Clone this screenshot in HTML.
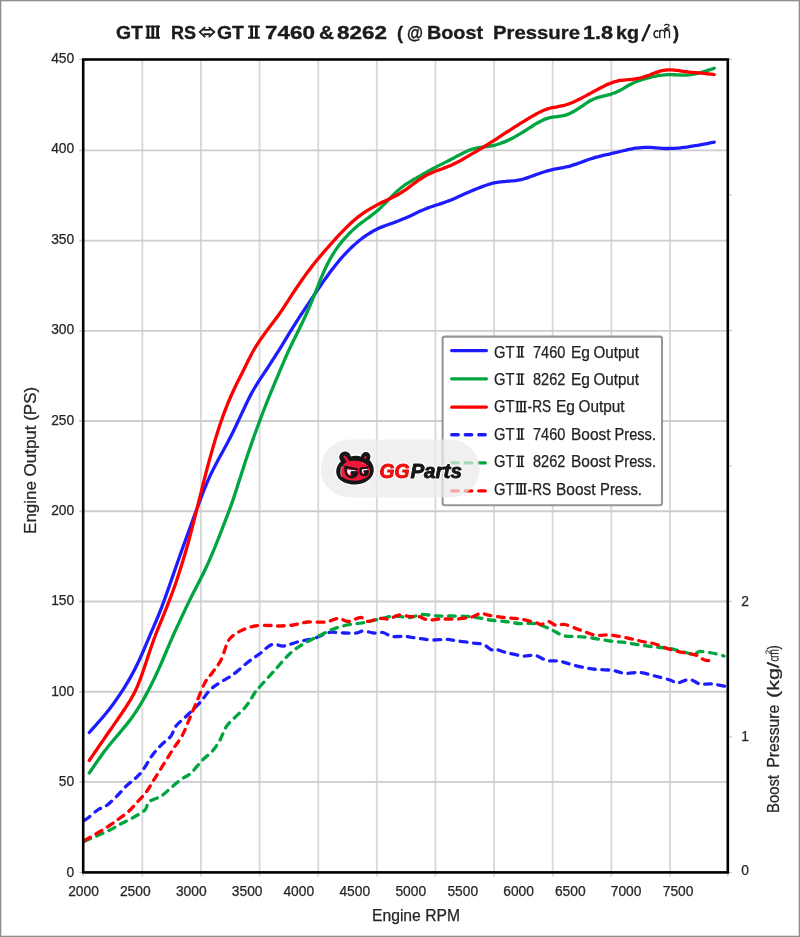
<!DOCTYPE html>
<html><head><meta charset="utf-8"><title>GT3 RS vs GT2 7460 &amp; 8262</title>
<style>html,body{margin:0;padding:0;background:#fff;}body{width:800px;height:937px;overflow:hidden;font-family:"Liberation Sans",sans-serif;}svg{display:block;}text{font-family:"Liberation Sans",sans-serif;}</style>
</head><body>
<svg width="800" height="937" viewBox="0 0 800 937">
<rect x="0" y="0" width="800" height="937" fill="#fff"/>
<defs><filter id="soft" x="0" y="0" width="800" height="937" filterUnits="userSpaceOnUse"><feGaussianBlur stdDeviation="0.45"/></filter></defs>
<g filter="url(#soft)">
<rect x="-5" y="-5" width="810" height="947" fill="#fff"/>
<rect x="0.5" y="0.5" width="799" height="936" fill="none" stroke="#8e8e8e" stroke-width="1.6"/>
<g stroke="#d9d9d9" stroke-width="1.9" fill="none">
<line x1="142.35" y1="59.50" x2="142.35" y2="876.40"/>
<line x1="200.97" y1="59.50" x2="200.97" y2="876.40"/>
<line x1="259.59" y1="59.50" x2="259.59" y2="876.40"/>
<line x1="318.21" y1="59.50" x2="318.21" y2="876.40"/>
<line x1="376.83" y1="59.50" x2="376.83" y2="876.40"/>
<line x1="435.45" y1="59.50" x2="435.45" y2="876.40"/>
<line x1="494.07" y1="59.50" x2="494.07" y2="876.40"/>
<line x1="552.69" y1="59.50" x2="552.69" y2="876.40"/>
<line x1="611.31" y1="59.50" x2="611.31" y2="876.40"/>
<line x1="669.93" y1="59.50" x2="669.93" y2="876.40"/>
</g>
<g stroke="#cdcdcd" stroke-width="1.9" fill="none">
<line x1="79.20" y1="781.89" x2="727.80" y2="781.89"/>
<line x1="79.20" y1="691.68" x2="727.80" y2="691.68"/>
<line x1="79.20" y1="601.47" x2="727.80" y2="601.47"/>
<line x1="79.20" y1="511.26" x2="727.80" y2="511.26"/>
<line x1="79.20" y1="421.05" x2="727.80" y2="421.05"/>
<line x1="79.20" y1="330.84" x2="727.80" y2="330.84"/>
<line x1="79.20" y1="240.63" x2="727.80" y2="240.63"/>
<line x1="79.20" y1="150.42" x2="727.80" y2="150.42"/>
</g>
<g stroke="#c4c4c4" stroke-width="1.2" fill="none">
<line x1="83.20" y1="872.40" x2="83.20" y2="876.40"/>
<line x1="727.80" y1="872.40" x2="727.80" y2="876.40"/>
<line x1="79.20" y1="59.50" x2="83.20" y2="59.50"/>
<line x1="79.20" y1="872.40" x2="83.20" y2="872.40"/>
<line x1="727.80" y1="872.40" x2="731.80" y2="872.40"/>
<line x1="727.80" y1="736.92" x2="731.80" y2="736.92"/>
<line x1="727.80" y1="601.43" x2="731.80" y2="601.43"/>
<line x1="727.80" y1="465.95" x2="731.80" y2="465.95"/>
<line x1="727.80" y1="330.47" x2="731.80" y2="330.47"/>
<line x1="727.80" y1="194.98" x2="731.80" y2="194.98"/>
<line x1="727.80" y1="59.50" x2="731.80" y2="59.50"/>
</g>
<g fill="none" stroke-width="3.3" stroke-linecap="round" stroke-linejoin="round">
<path stroke="#1f1fff" d="M89.25,732.50 C89.75,731.94 91.25,730.28 92.25,729.16 C93.25,728.05 94.25,726.94 95.25,725.82 C96.25,724.70 97.25,723.59 98.25,722.45 C99.25,721.32 100.25,720.19 101.25,719.02 C102.25,717.86 103.25,716.68 104.25,715.47 C105.25,714.26 106.25,713.02 107.25,711.76 C108.25,710.50 109.25,709.21 110.25,707.90 C111.25,706.59 112.25,705.26 113.25,703.91 C114.25,702.56 115.25,701.19 116.25,699.78 C117.25,698.37 118.25,696.93 119.25,695.45 C120.25,693.97 121.25,692.45 122.25,690.89 C123.25,689.33 124.25,687.73 125.25,686.10 C126.25,684.46 127.25,682.80 128.25,681.10 C129.25,679.39 130.25,677.66 131.25,675.86 C132.25,674.06 133.25,672.21 134.25,670.28 C135.25,668.35 136.25,666.35 137.25,664.28 C138.25,662.21 139.25,660.05 140.25,657.85 C141.25,655.66 142.25,653.38 143.25,651.08 C144.25,648.79 145.25,646.43 146.25,644.08 C147.25,641.73 148.25,639.35 149.25,636.99 C150.25,634.64 151.25,632.29 152.25,629.95 C153.25,627.62 154.25,625.32 155.25,622.97 C156.25,620.61 157.25,618.28 158.25,615.83 C159.25,613.38 160.25,610.88 161.25,608.29 C162.25,605.70 163.25,603.02 164.25,600.29 C165.25,597.56 166.25,594.75 167.25,591.93 C168.25,589.10 169.25,586.21 170.25,583.33 C171.25,580.45 172.25,577.53 173.25,574.65 C174.25,571.76 175.25,568.87 176.25,566.01 C177.25,563.16 178.25,560.32 179.25,557.50 C180.25,554.67 181.25,551.87 182.25,549.07 C183.25,546.28 184.25,543.49 185.25,540.72 C186.25,537.95 187.25,535.20 188.25,532.46 C189.25,529.72 190.25,527.00 191.25,524.28 C192.25,521.56 193.25,518.85 194.25,516.13 C195.25,513.41 196.25,510.69 197.25,507.97 C198.25,505.26 199.25,502.53 200.25,499.86 C201.25,497.19 202.25,494.53 203.25,491.97 C204.25,489.42 205.25,486.92 206.25,484.54 C207.25,482.15 208.25,479.87 209.25,477.67 C210.25,475.47 211.25,473.37 212.25,471.33 C213.25,469.28 214.25,467.33 215.25,465.39 C216.25,463.46 217.25,461.59 218.25,459.73 C219.25,457.87 220.25,456.05 221.25,454.22 C222.25,452.39 223.25,450.60 224.25,448.77 C225.25,446.94 226.25,445.11 227.25,443.24 C228.25,441.36 229.25,439.47 230.25,437.52 C231.25,435.56 232.25,433.56 233.25,431.53 C234.25,429.49 235.25,427.40 236.25,425.29 C237.25,423.19 238.25,421.03 239.25,418.88 C240.25,416.73 241.25,414.54 242.25,412.38 C243.25,410.22 244.25,408.04 245.25,405.93 C246.25,403.81 247.25,401.71 248.25,399.70 C249.25,397.70 250.25,395.75 251.25,393.88 C252.25,392.02 253.25,390.24 254.25,388.53 C255.25,386.81 256.25,385.17 257.25,383.57 C258.25,381.97 259.25,380.44 260.25,378.92 C261.25,377.40 262.25,375.93 263.25,374.43 C264.25,372.94 265.25,371.47 266.25,369.96 C267.25,368.45 268.25,366.92 269.25,365.38 C270.25,363.84 271.25,362.27 272.25,360.71 C273.25,359.15 274.25,357.58 275.25,356.01 C276.25,354.44 277.25,352.88 278.25,351.30 C279.25,349.73 280.25,348.15 281.25,346.54 C282.25,344.93 283.25,343.30 284.25,341.66 C285.25,340.01 286.25,338.33 287.25,336.67 C288.25,335.00 289.25,333.32 290.25,331.67 C291.25,330.02 292.25,328.38 293.25,326.78 C294.25,325.17 295.25,323.60 296.25,322.04 C297.25,320.48 298.25,318.95 299.25,317.43 C300.25,315.90 301.25,314.40 302.25,312.89 C303.25,311.38 304.25,309.88 305.25,308.38 C306.25,306.88 307.25,305.38 308.25,303.88 C309.25,302.38 310.25,300.88 311.25,299.38 C312.25,297.88 313.25,296.38 314.25,294.89 C315.25,293.40 316.25,291.90 317.25,290.42 C318.25,288.94 319.25,287.47 320.25,286.01 C321.25,284.55 322.25,283.11 323.25,281.68 C324.25,280.26 325.25,278.85 326.25,277.46 C327.25,276.07 328.25,274.70 329.25,273.34 C330.25,271.99 331.25,270.66 332.25,269.34 C333.25,268.03 334.25,266.74 335.25,265.47 C336.25,264.20 337.25,262.95 338.25,261.74 C339.25,260.53 340.25,259.34 341.25,258.18 C342.25,257.03 343.25,255.91 344.25,254.83 C345.25,253.74 346.25,252.69 347.25,251.66 C348.25,250.64 349.25,249.64 350.25,248.67 C351.25,247.70 352.25,246.75 353.25,245.82 C354.25,244.90 355.25,243.99 356.25,243.12 C357.25,242.24 358.25,241.38 359.25,240.56 C360.25,239.74 361.25,238.95 362.25,238.20 C363.25,237.44 364.25,236.72 365.25,236.03 C366.25,235.34 367.25,234.69 368.25,234.05 C369.25,233.42 370.25,232.82 371.25,232.23 C372.25,231.65 373.25,231.09 374.25,230.55 C375.25,230.02 376.25,229.50 377.25,229.01 C378.25,228.52 379.25,228.05 380.25,227.60 C381.25,227.16 382.25,226.75 383.25,226.35 C384.25,225.96 385.25,225.60 386.25,225.24 C387.25,224.88 388.25,224.55 389.25,224.21 C390.25,223.87 391.25,223.54 392.25,223.19 C393.25,222.85 394.25,222.50 395.25,222.14 C396.25,221.78 397.25,221.41 398.25,221.02 C399.25,220.64 400.25,220.25 401.25,219.84 C402.25,219.43 403.25,219.02 404.25,218.59 C405.25,218.16 406.25,217.71 407.25,217.27 C408.25,216.82 409.25,216.36 410.25,215.89 C411.25,215.42 412.25,214.95 413.25,214.47 C414.25,214.00 415.25,213.51 416.25,213.03 C417.25,212.56 418.25,212.07 419.25,211.61 C420.25,211.15 421.25,210.69 422.25,210.26 C423.25,209.82 424.25,209.40 425.25,209.00 C426.25,208.60 427.25,208.21 428.25,207.84 C429.25,207.47 430.25,207.11 431.25,206.77 C432.25,206.42 433.25,206.10 434.25,205.77 C435.25,205.44 436.25,205.13 437.25,204.80 C438.25,204.48 439.25,204.17 440.25,203.84 C441.25,203.51 442.25,203.18 443.25,202.84 C444.25,202.50 445.25,202.15 446.25,201.79 C447.25,201.42 448.25,201.05 449.25,200.66 C450.25,200.26 451.25,199.86 452.25,199.44 C453.25,199.02 454.25,198.58 455.25,198.14 C456.25,197.70 457.25,197.25 458.25,196.79 C459.25,196.34 460.25,195.88 461.25,195.43 C462.25,194.97 463.25,194.51 464.25,194.06 C465.25,193.61 466.25,193.16 467.25,192.72 C468.25,192.28 469.25,191.84 470.25,191.41 C471.25,190.99 472.25,190.56 473.25,190.15 C474.25,189.74 475.25,189.33 476.25,188.93 C477.25,188.53 478.25,188.13 479.25,187.74 C480.25,187.35 481.25,186.96 482.25,186.59 C483.25,186.22 484.25,185.85 485.25,185.50 C486.25,185.15 487.25,184.81 488.25,184.49 C489.25,184.18 490.25,183.89 491.25,183.62 C492.25,183.36 493.25,183.11 494.25,182.90 C495.25,182.68 496.25,182.49 497.25,182.33 C498.25,182.16 499.25,182.02 500.25,181.89 C501.25,181.77 502.25,181.68 503.25,181.59 C504.25,181.50 505.25,181.43 506.25,181.36 C507.25,181.29 508.25,181.24 509.25,181.17 C510.25,181.10 511.25,181.03 512.25,180.95 C513.25,180.86 514.25,180.77 515.25,180.65 C516.25,180.52 517.25,180.39 518.25,180.21 C519.25,180.04 520.25,179.83 521.25,179.60 C522.25,179.36 523.25,179.09 524.25,178.79 C525.25,178.50 526.25,178.17 527.25,177.84 C528.25,177.50 529.25,177.14 530.25,176.78 C531.25,176.42 532.25,176.04 533.25,175.67 C534.25,175.30 535.25,174.92 536.25,174.55 C537.25,174.18 538.25,173.81 539.25,173.46 C540.25,173.11 541.25,172.77 542.25,172.44 C543.25,172.12 544.25,171.81 545.25,171.51 C546.25,171.21 547.25,170.93 548.25,170.66 C549.25,170.39 550.25,170.14 551.25,169.90 C552.25,169.66 553.25,169.44 554.25,169.22 C555.25,169.01 556.25,168.81 557.25,168.62 C558.25,168.43 559.25,168.25 560.25,168.07 C561.25,167.89 562.25,167.72 563.25,167.54 C564.25,167.36 565.25,167.18 566.25,166.97 C567.25,166.76 568.25,166.54 569.25,166.28 C570.25,166.03 571.25,165.74 572.25,165.43 C573.25,165.12 574.25,164.77 575.25,164.42 C576.25,164.07 577.25,163.69 578.25,163.32 C579.25,162.95 580.25,162.58 581.25,162.21 C582.25,161.84 583.25,161.47 584.25,161.11 C585.25,160.75 586.25,160.40 587.25,160.05 C588.25,159.71 589.25,159.37 590.25,159.04 C591.25,158.72 592.25,158.40 593.25,158.09 C594.25,157.79 595.25,157.49 596.25,157.21 C597.25,156.92 598.25,156.65 599.25,156.39 C600.25,156.13 601.25,155.89 602.25,155.65 C603.25,155.42 604.25,155.19 605.25,154.97 C606.25,154.75 607.25,154.53 608.25,154.31 C609.25,154.09 610.25,153.87 611.25,153.64 C612.25,153.42 613.25,153.19 614.25,152.95 C615.25,152.72 616.25,152.48 617.25,152.24 C618.25,151.99 619.25,151.75 620.25,151.50 C621.25,151.25 622.25,151.00 623.25,150.76 C624.25,150.52 625.25,150.27 626.25,150.04 C627.25,149.80 628.25,149.57 629.25,149.36 C630.25,149.15 631.25,148.95 632.25,148.76 C633.25,148.57 634.25,148.40 635.25,148.24 C636.25,148.09 637.25,147.95 638.25,147.82 C639.25,147.70 640.25,147.60 641.25,147.52 C642.25,147.44 643.25,147.38 644.25,147.35 C645.25,147.31 646.25,147.31 647.25,147.32 C648.25,147.34 649.25,147.38 650.25,147.43 C651.25,147.48 652.25,147.56 653.25,147.64 C654.25,147.72 655.25,147.81 656.25,147.90 C657.25,147.99 658.25,148.08 659.25,148.16 C660.25,148.24 661.25,148.31 662.25,148.36 C663.25,148.42 664.25,148.45 665.25,148.48 C666.25,148.50 667.25,148.50 668.25,148.49 C669.25,148.48 670.25,148.46 671.25,148.42 C672.25,148.39 673.25,148.34 674.25,148.29 C675.25,148.23 676.25,148.16 677.25,148.08 C678.25,148.00 679.25,147.91 680.25,147.81 C681.25,147.71 682.25,147.60 683.25,147.48 C684.25,147.36 685.25,147.23 686.25,147.09 C687.25,146.96 688.25,146.81 689.25,146.67 C690.25,146.52 691.25,146.37 692.25,146.21 C693.25,146.06 694.25,145.90 695.25,145.73 C696.25,145.57 697.25,145.40 698.25,145.23 C699.25,145.05 700.25,144.88 701.25,144.69 C702.25,144.51 703.25,144.32 704.25,144.13 C705.25,143.94 706.25,143.74 707.25,143.54 C708.25,143.35 709.25,143.15 710.25,142.95 C711.25,142.75 712.58,142.48 713.25,142.35 C713.92,142.22 714.08,142.18 714.25,142.15"/>
<path stroke="#00a540" d="M89.25,773.00 C89.75,772.27 91.25,770.08 92.25,768.62 C93.25,767.16 94.25,765.70 95.25,764.25 C96.25,762.80 97.25,761.35 98.25,759.92 C99.25,758.49 100.25,757.06 101.25,755.67 C102.25,754.28 103.25,752.91 104.25,751.58 C105.25,750.25 106.25,748.95 107.25,747.69 C108.25,746.42 109.25,745.20 110.25,743.98 C111.25,742.77 112.25,741.59 113.25,740.40 C114.25,739.21 115.25,738.04 116.25,736.86 C117.25,735.68 118.25,734.50 119.25,733.32 C120.25,732.13 121.25,730.95 122.25,729.75 C123.25,728.55 124.25,727.35 125.25,726.12 C126.25,724.89 127.25,723.66 128.25,722.38 C129.25,721.09 130.25,719.79 131.25,718.42 C132.25,717.06 133.25,715.65 134.25,714.19 C135.25,712.73 136.25,711.22 137.25,709.66 C138.25,708.11 139.25,706.51 140.25,704.86 C141.25,703.22 142.25,701.53 143.25,699.79 C144.25,698.05 145.25,696.25 146.25,694.41 C147.25,692.56 148.25,690.65 149.25,688.70 C150.25,686.75 151.25,684.75 152.25,682.70 C153.25,680.66 154.25,678.57 155.25,676.44 C156.25,674.32 157.25,672.14 158.25,669.94 C159.25,667.74 160.25,665.49 161.25,663.21 C162.25,660.94 163.25,658.62 164.25,656.28 C165.25,653.95 166.25,651.57 167.25,649.21 C168.25,646.85 169.25,644.46 170.25,642.14 C171.25,639.81 172.25,637.51 173.25,635.26 C174.25,633.02 175.25,630.84 176.25,628.67 C177.25,626.50 178.25,624.38 179.25,622.24 C180.25,620.10 181.25,617.95 182.25,615.82 C183.25,613.68 184.25,611.52 185.25,609.41 C186.25,607.29 187.25,605.20 188.25,603.13 C189.25,601.07 190.25,599.04 191.25,597.03 C192.25,595.03 193.25,593.05 194.25,591.10 C195.25,589.14 196.25,587.23 197.25,585.30 C198.25,583.37 199.25,581.47 200.25,579.52 C201.25,577.56 202.25,575.60 203.25,573.56 C204.25,571.52 205.25,569.43 206.25,567.28 C207.25,565.12 208.25,562.90 209.25,560.63 C210.25,558.36 211.25,556.03 212.25,553.66 C213.25,551.29 214.25,548.87 215.25,546.41 C216.25,543.95 217.25,541.43 218.25,538.90 C219.25,536.37 220.25,533.79 221.25,531.22 C222.25,528.65 223.25,526.06 224.25,523.47 C225.25,520.87 226.25,518.30 227.25,515.65 C228.25,513.01 229.25,510.38 230.25,507.62 C231.25,504.86 232.25,502.04 233.25,499.11 C234.25,496.17 235.25,493.11 236.25,490.02 C237.25,486.93 238.25,483.72 239.25,480.58 C240.25,477.43 241.25,474.26 242.25,471.15 C243.25,468.04 244.25,464.97 245.25,461.93 C246.25,458.90 247.25,455.92 248.25,452.96 C249.25,450.01 250.25,447.10 251.25,444.23 C252.25,441.36 253.25,438.54 254.25,435.75 C255.25,432.96 256.25,430.22 257.25,427.50 C258.25,424.78 259.25,422.09 260.25,419.43 C261.25,416.77 262.25,414.13 263.25,411.53 C264.25,408.92 265.25,406.35 266.25,403.81 C267.25,401.28 268.25,398.79 269.25,396.34 C270.25,393.88 271.25,391.47 272.25,389.07 C273.25,386.67 274.25,384.30 275.25,381.92 C276.25,379.54 277.25,377.17 278.25,374.79 C279.25,372.41 280.25,370.01 281.25,367.64 C282.25,365.27 283.25,362.90 284.25,360.59 C285.25,358.28 286.25,356.00 287.25,353.79 C288.25,351.58 289.25,349.43 290.25,347.31 C291.25,345.20 292.25,343.14 293.25,341.09 C294.25,339.04 295.25,337.03 296.25,335.00 C297.25,332.97 298.25,330.96 299.25,328.91 C300.25,326.87 301.25,324.82 302.25,322.73 C303.25,320.64 304.25,318.52 305.25,316.35 C306.25,314.17 307.25,311.96 308.25,309.68 C309.25,307.40 310.25,305.06 311.25,302.67 C312.25,300.27 313.25,297.80 314.25,295.31 C315.25,292.82 316.25,290.26 317.25,287.74 C318.25,285.23 319.25,282.67 320.25,280.22 C321.25,277.78 322.25,275.35 323.25,273.06 C324.25,270.78 325.25,268.57 326.25,266.50 C327.25,264.42 328.25,262.46 329.25,260.60 C330.25,258.74 331.25,257.00 332.25,255.34 C333.25,253.67 334.25,252.11 335.25,250.62 C336.25,249.12 337.25,247.72 338.25,246.36 C339.25,245.00 340.25,243.72 341.25,242.47 C342.25,241.23 343.25,240.04 344.25,238.88 C345.25,237.73 346.25,236.63 347.25,235.56 C348.25,234.48 349.25,233.45 350.25,232.46 C351.25,231.47 352.25,230.51 353.25,229.59 C354.25,228.67 355.25,227.78 356.25,226.93 C357.25,226.08 358.25,225.27 359.25,224.47 C360.25,223.68 361.25,222.92 362.25,222.17 C363.25,221.42 364.25,220.69 365.25,219.97 C366.25,219.24 367.25,218.53 368.25,217.81 C369.25,217.08 370.25,216.37 371.25,215.62 C372.25,214.87 373.25,214.11 374.25,213.30 C375.25,212.50 376.25,211.67 377.25,210.80 C378.25,209.93 379.25,209.02 380.25,208.08 C381.25,207.14 382.25,206.17 383.25,205.17 C384.25,204.18 385.25,203.15 386.25,202.11 C387.25,201.08 388.25,200.01 389.25,198.97 C390.25,197.93 391.25,196.87 392.25,195.86 C393.25,194.85 394.25,193.86 395.25,192.91 C396.25,191.97 397.25,191.06 398.25,190.20 C399.25,189.33 400.25,188.51 401.25,187.73 C402.25,186.95 403.25,186.20 404.25,185.49 C405.25,184.78 406.25,184.11 407.25,183.45 C408.25,182.80 409.25,182.18 410.25,181.58 C411.25,180.97 412.25,180.38 413.25,179.80 C414.25,179.22 415.25,178.65 416.25,178.07 C417.25,177.50 418.25,176.92 419.25,176.35 C420.25,175.77 421.25,175.19 422.25,174.61 C423.25,174.04 424.25,173.45 425.25,172.88 C426.25,172.30 427.25,171.73 428.25,171.17 C429.25,170.61 430.25,170.06 431.25,169.52 C432.25,168.98 433.25,168.45 434.25,167.93 C435.25,167.41 436.25,166.90 437.25,166.39 C438.25,165.88 439.25,165.38 440.25,164.88 C441.25,164.37 442.25,163.87 443.25,163.37 C444.25,162.86 445.25,162.36 446.25,161.85 C447.25,161.34 448.25,160.83 449.25,160.31 C450.25,159.79 451.25,159.27 452.25,158.74 C453.25,158.22 454.25,157.69 455.25,157.16 C456.25,156.63 457.25,156.10 458.25,155.57 C459.25,155.04 460.25,154.51 461.25,154.00 C462.25,153.49 463.25,152.97 464.25,152.49 C465.25,152.00 466.25,151.53 467.25,151.09 C468.25,150.66 469.25,150.24 470.25,149.87 C471.25,149.51 472.25,149.17 473.25,148.88 C474.25,148.58 475.25,148.33 476.25,148.10 C477.25,147.87 478.25,147.69 479.25,147.52 C480.25,147.35 481.25,147.22 482.25,147.10 C483.25,146.97 484.25,146.88 485.25,146.76 C486.25,146.65 487.25,146.55 488.25,146.41 C489.25,146.28 490.25,146.13 491.25,145.95 C492.25,145.77 493.25,145.56 494.25,145.32 C495.25,145.08 496.25,144.81 497.25,144.51 C498.25,144.22 499.25,143.89 500.25,143.54 C501.25,143.19 502.25,142.81 503.25,142.40 C504.25,142.00 505.25,141.57 506.25,141.13 C507.25,140.68 508.25,140.21 509.25,139.72 C510.25,139.23 511.25,138.72 512.25,138.20 C513.25,137.68 514.25,137.13 515.25,136.58 C516.25,136.02 517.25,135.45 518.25,134.87 C519.25,134.29 520.25,133.69 521.25,133.08 C522.25,132.47 523.25,131.85 524.25,131.23 C525.25,130.60 526.25,129.97 527.25,129.33 C528.25,128.69 529.25,128.05 530.25,127.41 C531.25,126.77 532.25,126.12 533.25,125.49 C534.25,124.86 535.25,124.24 536.25,123.64 C537.25,123.05 538.25,122.47 539.25,121.93 C540.25,121.39 541.25,120.89 542.25,120.42 C543.25,119.96 544.25,119.54 545.25,119.16 C546.25,118.79 547.25,118.46 548.25,118.17 C549.25,117.89 550.25,117.66 551.25,117.46 C552.25,117.26 553.25,117.12 554.25,116.98 C555.25,116.84 556.25,116.74 557.25,116.61 C558.25,116.48 559.25,116.37 560.25,116.21 C561.25,116.05 562.25,115.88 563.25,115.65 C564.25,115.42 565.25,115.16 566.25,114.83 C567.25,114.51 568.25,114.13 569.25,113.71 C570.25,113.28 571.25,112.80 572.25,112.28 C573.25,111.76 574.25,111.20 575.25,110.61 C576.25,110.02 577.25,109.39 578.25,108.74 C579.25,108.10 580.25,107.41 581.25,106.72 C582.25,106.04 583.25,105.31 584.25,104.62 C585.25,103.93 586.25,103.22 587.25,102.57 C588.25,101.92 589.25,101.30 590.25,100.74 C591.25,100.18 592.25,99.67 593.25,99.22 C594.25,98.76 595.25,98.37 596.25,98.00 C597.25,97.64 598.25,97.34 599.25,97.05 C600.25,96.77 601.25,96.53 602.25,96.29 C603.25,96.05 604.25,95.85 605.25,95.63 C606.25,95.40 607.25,95.19 608.25,94.94 C609.25,94.69 610.25,94.42 611.25,94.11 C612.25,93.80 613.25,93.45 614.25,93.06 C615.25,92.68 616.25,92.25 617.25,91.79 C618.25,91.32 619.25,90.81 620.25,90.27 C621.25,89.73 622.25,89.14 623.25,88.55 C624.25,87.96 625.25,87.34 626.25,86.75 C627.25,86.15 628.25,85.55 629.25,85.00 C630.25,84.45 631.25,83.92 632.25,83.44 C633.25,82.95 634.25,82.50 635.25,82.08 C636.25,81.66 637.25,81.27 638.25,80.90 C639.25,80.54 640.25,80.20 641.25,79.88 C642.25,79.56 643.25,79.27 644.25,78.98 C645.25,78.69 646.25,78.42 647.25,78.16 C648.25,77.89 649.25,77.64 650.25,77.39 C651.25,77.14 652.25,76.90 653.25,76.67 C654.25,76.45 655.25,76.22 656.25,76.02 C657.25,75.82 658.25,75.64 659.25,75.48 C660.25,75.32 661.25,75.19 662.25,75.07 C663.25,74.96 664.25,74.87 665.25,74.81 C666.25,74.74 667.25,74.70 668.25,74.67 C669.25,74.65 670.25,74.64 671.25,74.65 C672.25,74.66 673.25,74.69 674.25,74.73 C675.25,74.77 676.25,74.82 677.25,74.87 C678.25,74.92 679.25,74.98 680.25,75.02 C681.25,75.06 682.25,75.11 683.25,75.12 C684.25,75.13 685.25,75.12 686.25,75.08 C687.25,75.03 688.25,74.96 689.25,74.85 C690.25,74.75 691.25,74.61 692.25,74.44 C693.25,74.28 694.25,74.09 695.25,73.87 C696.25,73.66 697.25,73.42 698.25,73.17 C699.25,72.92 700.25,72.64 701.25,72.36 C702.25,72.07 703.25,71.77 704.25,71.47 C705.25,71.17 706.25,70.85 707.25,70.53 C708.25,70.22 709.25,69.89 710.25,69.56 C711.25,69.24 712.58,68.80 713.25,68.58 C713.92,68.36 714.08,68.30 714.25,68.25"/>
<path stroke="#ff0000" d="M89.25,760.50 C89.75,759.77 91.25,757.58 92.25,756.12 C93.25,754.66 94.25,753.20 95.25,751.74 C96.25,750.28 97.25,748.82 98.25,747.36 C99.25,745.91 100.25,744.45 101.25,742.99 C102.25,741.54 103.25,740.09 104.25,738.64 C105.25,737.19 106.25,735.75 107.25,734.30 C108.25,732.86 109.25,731.42 110.25,729.98 C111.25,728.54 112.25,727.11 113.25,725.67 C114.25,724.23 115.25,722.79 116.25,721.34 C117.25,719.90 118.25,718.45 119.25,717.00 C120.25,715.54 121.25,714.08 122.25,712.60 C123.25,711.12 124.25,709.64 125.25,708.12 C126.25,706.60 127.25,705.08 128.25,703.48 C129.25,701.87 130.25,700.25 131.25,698.50 C132.25,696.74 133.25,694.93 134.25,692.94 C135.25,690.95 136.25,688.85 137.25,686.55 C138.25,684.26 139.25,681.78 140.25,679.16 C141.25,676.53 142.25,673.69 143.25,670.80 C144.25,667.92 145.25,664.85 146.25,661.84 C147.25,658.83 148.25,655.72 149.25,652.74 C150.25,649.76 151.25,646.78 152.25,643.95 C153.25,641.12 154.25,638.38 155.25,635.76 C156.25,633.13 157.25,630.66 158.25,628.19 C159.25,625.71 160.25,623.34 161.25,620.89 C162.25,618.43 163.25,615.97 164.25,613.46 C165.25,610.95 166.25,608.40 167.25,605.85 C168.25,603.30 169.25,600.78 170.25,598.18 C171.25,595.58 172.25,592.99 173.25,590.26 C174.25,587.52 175.25,584.69 176.25,581.74 C177.25,578.79 178.25,575.70 179.25,572.57 C180.25,569.44 181.25,566.23 182.25,562.97 C183.25,559.71 184.25,556.42 185.25,553.01 C186.25,549.60 187.25,546.12 188.25,542.50 C189.25,538.89 190.25,535.14 191.25,531.32 C192.25,527.51 193.25,523.56 194.25,519.61 C195.25,515.66 196.25,511.64 197.25,507.62 C198.25,503.61 199.25,499.55 200.25,495.54 C201.25,491.53 202.25,487.50 203.25,483.55 C204.25,479.60 205.25,475.69 206.25,471.87 C207.25,468.05 208.25,464.29 209.25,460.63 C210.25,456.96 211.25,453.37 212.25,449.87 C213.25,446.36 214.25,442.93 215.25,439.62 C216.25,436.30 217.25,433.07 218.25,429.97 C219.25,426.87 220.25,423.87 221.25,420.99 C222.25,418.11 223.25,415.35 224.25,412.67 C225.25,410.00 226.25,407.43 227.25,404.94 C228.25,402.45 229.25,400.05 230.25,397.73 C231.25,395.40 232.25,393.17 233.25,390.99 C234.25,388.81 235.25,386.73 236.25,384.68 C237.25,382.63 238.25,380.66 239.25,378.67 C240.25,376.68 241.25,374.74 242.25,372.74 C243.25,370.74 244.25,368.71 245.25,366.67 C246.25,364.64 247.25,362.54 248.25,360.54 C249.25,358.53 250.25,356.53 251.25,354.65 C252.25,352.78 253.25,350.99 254.25,349.28 C255.25,347.58 256.25,345.99 257.25,344.43 C258.25,342.88 259.25,341.40 260.25,339.94 C261.25,338.48 262.25,337.06 263.25,335.66 C264.25,334.26 265.25,332.88 266.25,331.52 C267.25,330.16 268.25,328.82 269.25,327.48 C270.25,326.15 271.25,324.84 272.25,323.52 C273.25,322.20 274.25,320.90 275.25,319.56 C276.25,318.22 277.25,316.88 278.25,315.49 C279.25,314.09 280.25,312.66 281.25,311.19 C282.25,309.73 283.25,308.21 284.25,306.68 C285.25,305.15 286.25,303.58 287.25,302.02 C288.25,300.47 289.25,298.90 290.25,297.35 C291.25,295.81 292.25,294.26 293.25,292.75 C294.25,291.23 295.25,289.72 296.25,288.24 C297.25,286.75 298.25,285.29 299.25,283.84 C300.25,282.39 301.25,280.97 302.25,279.56 C303.25,278.15 304.25,276.76 305.25,275.39 C306.25,274.01 307.25,272.66 308.25,271.33 C309.25,269.99 310.25,268.68 311.25,267.38 C312.25,266.08 313.25,264.80 314.25,263.55 C315.25,262.29 316.25,261.05 317.25,259.82 C318.25,258.60 319.25,257.40 320.25,256.21 C321.25,255.02 322.25,253.85 323.25,252.69 C324.25,251.53 325.25,250.39 326.25,249.25 C327.25,248.11 328.25,246.98 329.25,245.86 C330.25,244.73 331.25,243.60 332.25,242.49 C333.25,241.37 334.25,240.25 335.25,239.15 C336.25,238.05 337.25,236.95 338.25,235.88 C339.25,234.80 340.25,233.73 341.25,232.69 C342.25,231.64 343.25,230.62 344.25,229.61 C345.25,228.60 346.25,227.61 347.25,226.64 C348.25,225.67 349.25,224.71 350.25,223.78 C351.25,222.85 352.25,221.94 353.25,221.06 C354.25,220.17 355.25,219.31 356.25,218.48 C357.25,217.65 358.25,216.84 359.25,216.08 C360.25,215.31 361.25,214.58 362.25,213.87 C363.25,213.17 364.25,212.50 365.25,211.85 C366.25,211.20 367.25,210.57 368.25,209.96 C369.25,209.35 370.25,208.76 371.25,208.18 C372.25,207.60 373.25,207.04 374.25,206.49 C375.25,205.93 376.25,205.39 377.25,204.87 C378.25,204.34 379.25,203.83 380.25,203.33 C381.25,202.82 382.25,202.34 383.25,201.86 C384.25,201.37 385.25,200.90 386.25,200.43 C387.25,199.96 388.25,199.49 389.25,199.01 C390.25,198.53 391.25,198.05 392.25,197.56 C393.25,197.07 394.25,196.57 395.25,196.06 C396.25,195.54 397.25,195.02 398.25,194.45 C399.25,193.89 400.25,193.32 401.25,192.69 C402.25,192.07 403.25,191.42 404.25,190.73 C405.25,190.04 406.25,189.31 407.25,188.58 C408.25,187.84 409.25,187.07 410.25,186.31 C411.25,185.55 412.25,184.78 413.25,184.04 C414.25,183.29 415.25,182.55 416.25,181.83 C417.25,181.12 418.25,180.42 419.25,179.75 C420.25,179.08 421.25,178.43 422.25,177.81 C423.25,177.18 424.25,176.58 425.25,176.01 C426.25,175.44 427.25,174.89 428.25,174.38 C429.25,173.87 430.25,173.40 431.25,172.95 C432.25,172.50 433.25,172.09 434.25,171.69 C435.25,171.29 436.25,170.93 437.25,170.56 C438.25,170.19 439.25,169.84 440.25,169.48 C441.25,169.11 442.25,168.76 443.25,168.39 C444.25,168.02 445.25,167.64 446.25,167.25 C447.25,166.86 448.25,166.46 449.25,166.04 C450.25,165.61 451.25,165.17 452.25,164.71 C453.25,164.25 454.25,163.77 455.25,163.28 C456.25,162.78 457.25,162.27 458.25,161.74 C459.25,161.21 460.25,160.66 461.25,160.11 C462.25,159.55 463.25,158.98 464.25,158.41 C465.25,157.83 466.25,157.25 467.25,156.67 C468.25,156.09 469.25,155.51 470.25,154.93 C471.25,154.35 472.25,153.77 473.25,153.19 C474.25,152.62 475.25,152.04 476.25,151.46 C477.25,150.87 478.25,150.29 479.25,149.69 C480.25,149.09 481.25,148.49 482.25,147.87 C483.25,147.26 484.25,146.64 485.25,146.01 C486.25,145.38 487.25,144.75 488.25,144.11 C489.25,143.48 490.25,142.84 491.25,142.20 C492.25,141.56 493.25,140.92 494.25,140.27 C495.25,139.63 496.25,138.99 497.25,138.34 C498.25,137.70 499.25,137.05 500.25,136.40 C501.25,135.75 502.25,135.10 503.25,134.44 C504.25,133.79 505.25,133.14 506.25,132.48 C507.25,131.83 508.25,131.18 509.25,130.53 C510.25,129.88 511.25,129.23 512.25,128.59 C513.25,127.94 514.25,127.30 515.25,126.67 C516.25,126.03 517.25,125.40 518.25,124.77 C519.25,124.15 520.25,123.52 521.25,122.91 C522.25,122.29 523.25,121.68 524.25,121.07 C525.25,120.46 526.25,119.86 527.25,119.26 C528.25,118.66 529.25,118.06 530.25,117.46 C531.25,116.87 532.25,116.27 533.25,115.69 C534.25,115.11 535.25,114.53 536.25,113.98 C537.25,113.43 538.25,112.89 539.25,112.39 C540.25,111.88 541.25,111.40 542.25,110.95 C543.25,110.51 544.25,110.09 545.25,109.71 C546.25,109.34 547.25,108.99 548.25,108.69 C549.25,108.39 550.25,108.13 551.25,107.90 C552.25,107.66 553.25,107.48 554.25,107.29 C555.25,107.11 556.25,106.96 557.25,106.78 C558.25,106.61 559.25,106.44 560.25,106.24 C561.25,106.04 562.25,105.82 563.25,105.57 C564.25,105.32 565.25,105.04 566.25,104.73 C567.25,104.42 568.25,104.07 569.25,103.69 C570.25,103.32 571.25,102.91 572.25,102.49 C573.25,102.06 574.25,101.61 575.25,101.15 C576.25,100.69 577.25,100.21 578.25,99.72 C579.25,99.23 580.25,98.73 581.25,98.22 C582.25,97.71 583.25,97.19 584.25,96.66 C585.25,96.13 586.25,95.59 587.25,95.06 C588.25,94.52 589.25,93.97 590.25,93.42 C591.25,92.88 592.25,92.32 593.25,91.78 C594.25,91.23 595.25,90.68 596.25,90.14 C597.25,89.59 598.25,89.05 599.25,88.52 C600.25,87.99 601.25,87.47 602.25,86.97 C603.25,86.46 604.25,85.96 605.25,85.49 C606.25,85.02 607.25,84.56 608.25,84.13 C609.25,83.71 610.25,83.30 611.25,82.93 C612.25,82.56 613.25,82.22 614.25,81.92 C615.25,81.61 616.25,81.33 617.25,81.10 C618.25,80.86 619.25,80.65 620.25,80.48 C621.25,80.31 622.25,80.18 623.25,80.06 C624.25,79.94 625.25,79.86 626.25,79.78 C627.25,79.69 628.25,79.62 629.25,79.54 C630.25,79.46 631.25,79.38 632.25,79.28 C633.25,79.18 634.25,79.07 635.25,78.93 C636.25,78.79 637.25,78.64 638.25,78.44 C639.25,78.25 640.25,78.03 641.25,77.77 C642.25,77.51 643.25,77.22 644.25,76.90 C645.25,76.59 646.25,76.24 647.25,75.88 C648.25,75.52 649.25,75.13 650.25,74.74 C651.25,74.36 652.25,73.95 653.25,73.57 C654.25,73.18 655.25,72.78 656.25,72.42 C657.25,72.07 658.25,71.72 659.25,71.42 C660.25,71.12 661.25,70.86 662.25,70.64 C663.25,70.43 664.25,70.26 665.25,70.13 C666.25,70.01 667.25,69.93 668.25,69.89 C669.25,69.84 670.25,69.85 671.25,69.88 C672.25,69.91 673.25,69.99 674.25,70.08 C675.25,70.17 676.25,70.30 677.25,70.43 C678.25,70.56 679.25,70.73 680.25,70.88 C681.25,71.03 682.25,71.20 683.25,71.34 C684.25,71.49 685.25,71.63 686.25,71.76 C687.25,71.88 688.25,71.99 689.25,72.10 C690.25,72.20 691.25,72.28 692.25,72.37 C693.25,72.45 694.25,72.53 695.25,72.61 C696.25,72.70 697.25,72.78 698.25,72.87 C699.25,72.96 700.25,73.05 701.25,73.15 C702.25,73.24 703.25,73.34 704.25,73.44 C705.25,73.54 706.25,73.65 707.25,73.76 C708.25,73.86 709.25,73.97 710.25,74.08 C711.25,74.19 712.58,74.33 713.25,74.41 C713.92,74.48 714.08,74.50 714.25,74.52"/>
</g>
<g fill="none" stroke-width="3.3" stroke-linecap="round" stroke-linejoin="round" stroke-dasharray="6.7 6.6">
<path stroke="#1f1fff" d="M84.50,820.25 C85.25,819.75 86.75,819.00 89.00,817.25 C91.25,815.50 95.00,811.75 98.00,809.75 C101.00,807.75 103.75,807.62 107.00,805.25 C110.25,802.88 114.25,798.75 117.50,795.50 C120.75,792.25 123.50,788.62 126.50,785.75 C129.50,782.88 132.75,780.88 135.50,778.25 C138.25,775.62 140.17,773.88 143.00,770.00 C145.83,766.12 149.25,759.38 152.50,755.00 C155.75,750.62 159.42,746.92 162.50,743.75 C165.58,740.58 168.75,738.96 171.00,736.00 C173.25,733.04 173.25,729.50 176.00,726.00 C178.75,722.50 183.50,718.92 187.50,715.00 C191.50,711.08 196.25,706.67 200.00,702.50 C203.75,698.33 206.67,693.33 210.00,690.00 C213.33,686.67 216.25,685.00 220.00,682.50 C223.75,680.00 227.92,678.33 232.50,675.00 C237.08,671.67 242.92,666.08 247.50,662.50 C252.08,658.92 255.92,656.50 260.00,653.50 C264.08,650.50 268.00,645.75 272.00,644.50 C276.00,643.25 279.50,646.50 284.00,646.00 C288.50,645.50 294.00,642.75 299.00,641.50 C304.00,640.25 309.00,640.00 314.00,638.50 C319.00,637.00 324.00,633.42 329.00,632.50 C334.00,631.58 339.50,632.92 344.00,633.00 C348.50,633.08 352.75,633.33 356.00,633.00 C359.25,632.67 360.50,631.00 363.50,631.00 C366.50,631.00 370.75,632.75 374.00,633.00 C377.25,633.25 380.00,631.93 383.00,632.50 C386.00,633.07 388.50,635.75 392.00,636.40 C395.50,637.05 400.00,636.13 404.00,636.40 C408.00,636.67 411.50,637.40 416.00,638.00 C420.50,638.60 426.00,639.77 431.00,640.00 C436.00,640.23 441.50,639.23 446.00,639.40 C450.50,639.57 453.50,640.40 458.00,641.00 C462.50,641.60 468.75,642.42 473.00,643.00 C477.25,643.58 480.50,643.40 483.50,644.50 C486.50,645.60 488.92,648.78 491.00,649.60 C493.08,650.42 493.17,648.83 496.00,649.40 C498.83,649.97 503.50,651.90 508.00,653.00 C512.50,654.10 518.50,655.60 523.00,656.00 C527.50,656.40 531.00,654.65 535.00,655.40 C539.00,656.15 543.00,659.57 547.00,660.50 C551.00,661.43 555.00,660.35 559.00,661.00 C563.00,661.65 566.50,663.23 571.00,664.40 C575.50,665.57 581.50,667.15 586.00,668.00 C590.50,668.85 593.50,669.10 598.00,669.50 C602.50,669.90 608.50,669.75 613.00,670.40 C617.50,671.05 620.50,673.05 625.00,673.40 C629.50,673.75 635.00,672.07 640.00,672.50 C645.00,672.93 650.00,674.75 655.00,676.00 C660.00,677.25 666.25,678.83 670.00,680.00 C673.75,681.17 674.25,683.10 677.50,683.00 C680.75,682.90 685.75,679.23 689.50,679.40 C693.25,679.57 696.25,683.23 700.00,684.00 C703.75,684.77 707.50,683.57 712.00,684.00 C716.50,684.43 724.50,686.17 727.00,686.60"/>
<path stroke="#00a540" d="M84.50,841.25 C86.50,840.38 92.25,837.88 96.50,836.00 C100.75,834.12 106.00,832.00 110.00,830.00 C114.00,828.00 116.75,826.00 120.50,824.00 C124.25,822.00 128.50,820.25 132.50,818.00 C136.50,815.75 142.00,812.75 144.50,810.50 C147.00,808.25 146.50,806.12 147.50,804.50 C148.50,802.88 148.25,802.12 150.50,800.75 C152.75,799.38 157.75,798.25 161.00,796.25 C164.25,794.25 166.75,791.50 170.00,788.75 C173.25,786.00 177.00,782.38 180.50,779.75 C184.00,777.12 187.33,776.29 191.00,773.00 C194.67,769.71 198.92,763.67 202.50,760.00 C206.08,756.33 209.58,754.33 212.50,751.00 C215.42,747.67 217.50,744.33 220.00,740.00 C222.50,735.67 223.33,730.42 227.50,725.00 C231.67,719.58 240.42,712.92 245.00,707.50 C249.58,702.08 252.50,696.00 255.00,692.50 C257.50,689.00 256.67,690.25 260.00,686.50 C263.33,682.75 270.00,675.50 275.00,670.00 C280.00,664.50 285.00,658.00 290.00,653.50 C295.00,649.00 300.00,646.00 305.00,643.00 C310.00,640.00 315.50,637.75 320.00,635.50 C324.50,633.25 327.50,631.25 332.00,629.50 C336.50,627.75 342.00,626.08 347.00,625.00 C352.00,623.92 357.00,623.90 362.00,623.00 C367.00,622.10 373.00,620.52 377.00,619.60 C381.00,618.68 383.00,618.10 386.00,617.50 C389.00,616.90 391.00,616.00 395.00,616.00 C399.00,616.00 405.50,617.75 410.00,617.50 C414.50,617.25 417.50,614.75 422.00,614.50 C426.50,614.25 432.00,615.75 437.00,616.00 C442.00,616.25 446.50,615.90 452.00,616.00 C457.50,616.10 464.50,616.10 470.00,616.60 C475.50,617.10 481.67,618.43 485.00,619.00 C488.33,619.57 486.67,619.58 490.00,620.00 C493.33,620.42 500.00,620.90 505.00,621.50 C510.00,622.10 515.00,623.25 520.00,623.60 C525.00,623.95 530.00,622.70 535.00,623.60 C540.00,624.50 545.25,627.00 550.00,629.00 C554.75,631.00 559.00,634.35 563.50,635.60 C568.00,636.85 572.25,636.10 577.00,636.50 C581.75,636.90 586.50,637.25 592.00,638.00 C597.50,638.75 604.50,640.25 610.00,641.00 C615.50,641.75 620.00,641.83 625.00,642.50 C630.00,643.17 635.00,644.25 640.00,645.00 C645.00,645.75 650.00,646.42 655.00,647.00 C660.00,647.58 665.00,647.60 670.00,648.50 C675.00,649.40 681.00,651.48 685.00,652.40 C689.00,653.32 691.50,654.15 694.00,654.00 C696.50,653.85 697.00,651.67 700.00,651.50 C703.00,651.33 708.00,652.25 712.00,653.00 C716.00,653.75 722.00,655.50 724.00,656.00"/>
<path stroke="#ff0000" d="M84.50,840.50 C86.25,839.50 91.00,836.88 95.00,834.50 C99.00,832.12 104.50,828.88 108.50,826.25 C112.50,823.62 115.50,821.38 119.00,818.75 C122.50,816.12 126.25,813.50 129.50,810.50 C132.75,807.50 135.75,803.75 138.50,800.75 C141.25,797.75 143.50,795.88 146.00,792.50 C148.50,789.12 150.75,784.92 153.50,780.50 C156.25,776.08 159.33,771.08 162.50,766.00 C165.67,760.92 169.17,755.17 172.50,750.00 C175.83,744.83 179.58,740.42 182.50,735.00 C185.42,729.58 187.50,723.33 190.00,717.50 C192.50,711.67 195.00,705.83 197.50,700.00 C200.00,694.17 202.50,687.08 205.00,682.50 C207.50,677.92 209.83,676.25 212.50,672.50 C215.17,668.75 218.50,665.00 221.00,660.00 C223.50,655.00 225.58,646.50 227.50,642.50 C229.42,638.50 230.00,638.08 232.50,636.00 C235.00,633.92 238.75,631.67 242.50,630.00 C246.25,628.33 250.42,626.75 255.00,626.00 C259.58,625.25 266.17,625.50 270.00,625.50 C273.83,625.50 274.17,626.08 278.00,626.00 C281.83,625.92 288.00,625.67 293.00,625.00 C298.00,624.33 302.50,622.50 308.00,622.00 C313.50,621.50 321.00,622.60 326.00,622.00 C331.00,621.40 334.25,618.50 338.00,618.40 C341.75,618.30 344.75,621.55 348.50,621.40 C352.25,621.25 357.25,617.50 360.50,617.50 C363.75,617.50 364.75,621.25 368.00,621.40 C371.25,621.55 376.50,618.80 380.00,618.40 C383.50,618.00 385.75,619.57 389.00,619.00 C392.25,618.43 396.00,615.40 399.50,615.00 C403.00,614.60 406.75,616.33 410.00,616.60 C413.25,616.87 416.00,616.03 419.00,616.60 C422.00,617.17 424.50,619.60 428.00,620.00 C431.50,620.40 435.50,619.17 440.00,619.00 C444.50,618.83 450.00,619.25 455.00,619.00 C460.00,618.75 465.75,618.40 470.00,617.50 C474.25,616.60 477.17,613.93 480.50,613.60 C483.83,613.27 485.92,614.83 490.00,615.50 C494.08,616.17 500.00,617.02 505.00,617.60 C510.00,618.18 515.00,618.20 520.00,619.00 C525.00,619.80 531.50,621.48 535.00,622.40 C538.50,623.32 538.75,624.65 541.00,624.50 C543.25,624.35 546.00,621.35 548.50,621.50 C551.00,621.65 553.25,624.90 556.00,625.40 C558.75,625.90 561.00,623.73 565.00,624.50 C569.00,625.27 575.00,628.25 580.00,630.00 C585.00,631.75 590.00,634.17 595.00,635.00 C600.00,635.83 605.00,634.60 610.00,635.00 C615.00,635.40 620.00,636.40 625.00,637.40 C630.00,638.40 635.00,639.90 640.00,641.00 C645.00,642.10 650.00,642.60 655.00,644.00 C660.00,645.40 665.00,647.90 670.00,649.40 C675.00,650.90 680.50,652.00 685.00,653.00 C689.50,654.00 693.75,654.23 697.00,655.40 C700.25,656.57 701.75,659.15 704.50,660.00 C707.25,660.85 712.00,660.42 713.50,660.50"/>
</g>
<rect x="83.20" y="59.50" width="644.60" height="812.90" fill="none" stroke="#000" stroke-width="2.6"/>
<text x="83.50" y="896.10" font-size="13.80" text-anchor="middle" font-weight="normal" fill="#262626" stroke="#262626" stroke-width="0.25">2000</text>
<text x="135.30" y="896.10" font-size="13.80" text-anchor="middle" font-weight="normal" fill="#262626" stroke="#262626" stroke-width="0.25">2500</text>
<text x="191.30" y="896.10" font-size="13.80" text-anchor="middle" font-weight="normal" fill="#262626" stroke="#262626" stroke-width="0.25">3000</text>
<text x="247.20" y="896.10" font-size="13.80" text-anchor="middle" font-weight="normal" fill="#262626" stroke="#262626" stroke-width="0.25">3500</text>
<text x="298.80" y="896.10" font-size="13.80" text-anchor="middle" font-weight="normal" fill="#262626" stroke="#262626" stroke-width="0.25">4000</text>
<text x="354.80" y="896.10" font-size="13.80" text-anchor="middle" font-weight="normal" fill="#262626" stroke="#262626" stroke-width="0.25">4500</text>
<text x="410.80" y="896.10" font-size="13.80" text-anchor="middle" font-weight="normal" fill="#262626" stroke="#262626" stroke-width="0.25">5000</text>
<text x="462.80" y="896.10" font-size="13.80" text-anchor="middle" font-weight="normal" fill="#262626" stroke="#262626" stroke-width="0.25">5500</text>
<text x="518.60" y="896.10" font-size="13.80" text-anchor="middle" font-weight="normal" fill="#262626" stroke="#262626" stroke-width="0.25">6000</text>
<text x="570.30" y="896.10" font-size="13.80" text-anchor="middle" font-weight="normal" fill="#262626" stroke="#262626" stroke-width="0.25">6500</text>
<text x="626.10" y="896.10" font-size="13.80" text-anchor="middle" font-weight="normal" fill="#262626" stroke="#262626" stroke-width="0.25">7000</text>
<text x="678.10" y="896.10" font-size="13.80" text-anchor="middle" font-weight="normal" fill="#262626" stroke="#262626" stroke-width="0.25">7500</text>
<text x="74.20" y="876.65" font-size="13.80" text-anchor="end" font-weight="normal" fill="#262626" stroke="#262626" stroke-width="0.25">0</text>
<text x="74.20" y="786.25" font-size="13.80" text-anchor="end" font-weight="normal" fill="#262626" stroke="#262626" stroke-width="0.25">50</text>
<text x="74.20" y="695.85" font-size="13.80" text-anchor="end" font-weight="normal" fill="#262626" stroke="#262626" stroke-width="0.25">100</text>
<text x="74.20" y="605.45" font-size="13.80" text-anchor="end" font-weight="normal" fill="#262626" stroke="#262626" stroke-width="0.25">150</text>
<text x="74.20" y="515.05" font-size="13.80" text-anchor="end" font-weight="normal" fill="#262626" stroke="#262626" stroke-width="0.25">200</text>
<text x="74.20" y="424.65" font-size="13.80" text-anchor="end" font-weight="normal" fill="#262626" stroke="#262626" stroke-width="0.25">250</text>
<text x="74.20" y="334.25" font-size="13.80" text-anchor="end" font-weight="normal" fill="#262626" stroke="#262626" stroke-width="0.25">300</text>
<text x="74.20" y="243.85" font-size="13.80" text-anchor="end" font-weight="normal" fill="#262626" stroke="#262626" stroke-width="0.25">350</text>
<text x="74.20" y="153.45" font-size="13.80" text-anchor="end" font-weight="normal" fill="#262626" stroke="#262626" stroke-width="0.25">400</text>
<text x="74.20" y="63.05" font-size="13.80" text-anchor="end" font-weight="normal" fill="#262626" stroke="#262626" stroke-width="0.25">450</text>
<text x="745.20" y="875.15" font-size="13.80" text-anchor="middle" font-weight="normal" fill="#262626" stroke="#262626" stroke-width="0.25">0</text>
<text x="745.20" y="740.95" font-size="13.80" text-anchor="middle" font-weight="normal" fill="#262626" stroke="#262626" stroke-width="0.25">1</text>
<text x="745.20" y="605.50" font-size="13.80" text-anchor="middle" font-weight="normal" fill="#262626" stroke="#262626" stroke-width="0.25">2</text>
<text x="416.00" y="920.50" font-size="15.80" text-anchor="middle" font-weight="normal" fill="#262626" textLength="88.00" lengthAdjust="spacingAndGlyphs" stroke="#262626" stroke-width="0.25">Engine RPM</text>
<g transform="translate(35.6,460.4) rotate(-90)">
<text x="0.00" y="0.00" font-size="15.80" text-anchor="middle" font-weight="normal" fill="#262626" textLength="147.00" lengthAdjust="spacingAndGlyphs" stroke="#262626" stroke-width="0.25">Engine Output (PS)</text>
</g>
<g transform="translate(778.7,813) rotate(-90)">
<text x="0.00" y="0.00" font-size="15.80" text-anchor="start" font-weight="normal" fill="#262626" textLength="38.00" lengthAdjust="spacingAndGlyphs" stroke="#262626" stroke-width="0.25">Boost</text>
<text x="45.30" y="0.00" font-size="15.80" text-anchor="start" font-weight="normal" fill="#262626" textLength="63.00" lengthAdjust="spacingAndGlyphs" stroke="#262626" stroke-width="0.25">Pressure</text>
<text x="115.10" y="0.00" font-size="15.80" text-anchor="start" font-weight="normal" fill="#262626" textLength="36.00" lengthAdjust="spacingAndGlyphs" stroke="#262626" stroke-width="0.25">(kg/</text>
<g fill="none" stroke="#262626" stroke-width="1.05" stroke-linecap="butt">
<path d="M155.27,-6.12 A1.71,3.30 0 1 0 155.27,-1.53"/>
<path d="M156.16,0.00 V-7.66 M156.16,0.00 V-5.87 A1.62,1.79 0 0 1 159.41,-5.87 V0.00 M159.41,-5.87 A1.62,1.79 0 0 1 162.66,-5.87 V0.00"/>
<path stroke-width="0.89" d="M159.12,-12.04 Q160.95,-13.89 162.48,-12.18 Q162.77,-10.89 159.12,-8.58 H162.77"/>
</g>
<text x="163.40" y="0.00" font-size="15.80" text-anchor="start" font-weight="normal" fill="#262626" textLength="4.20" lengthAdjust="spacingAndGlyphs" stroke="#262626" stroke-width="0.25">)</text>
</g>
<text x="116.00" y="38.60" font-size="18.20" text-anchor="start" font-weight="bold" fill="#1c1c1c" textLength="27.00" lengthAdjust="spacingAndGlyphs" stroke="#1c1c1c" stroke-width="0.35">GT</text>
<g fill="#1c1c1c">
<rect x="145.60" y="25.60" width="14.40" height="1.8"/>
<rect x="145.60" y="36.80" width="14.40" height="1.8"/>
<rect x="146.60" y="25.60" width="2.8" height="13.00"/>
<rect x="151.40" y="25.60" width="2.8" height="13.00"/>
<rect x="156.20" y="25.60" width="2.8" height="13.00"/>
<rect x="248.00" y="25.60" width="12.00" height="1.8"/>
<rect x="248.00" y="36.80" width="12.00" height="1.8"/>
<rect x="250.20" y="25.60" width="2.8" height="13.00"/>
<rect x="255.00" y="25.60" width="2.8" height="13.00"/>
</g>
<text x="171.00" y="38.60" font-size="18.20" text-anchor="start" font-weight="bold" fill="#1c1c1c" textLength="25.00" lengthAdjust="spacingAndGlyphs" stroke="#1c1c1c" stroke-width="0.35">RS</text>
<g fill="none" stroke="#1c1c1c" stroke-width="1.9" stroke-linejoin="miter">
<path d="M203.6,29.9 H210.4 M203.6,34.3 H210.4"/>
<path d="M205.2,27.1 L199.8,32.1 L205.2,37.1 M208.8,27.1 L214.2,32.1 L208.8,37.1"/>
</g>
<text x="217.00" y="38.60" font-size="18.20" text-anchor="start" font-weight="bold" fill="#1c1c1c" textLength="27.00" lengthAdjust="spacingAndGlyphs" stroke="#1c1c1c" stroke-width="0.35">GT</text>
<text x="265.00" y="38.60" font-size="18.20" text-anchor="start" font-weight="bold" fill="#1c1c1c" textLength="50.00" lengthAdjust="spacingAndGlyphs" stroke="#1c1c1c" stroke-width="0.35">7460</text>
<text x="319.00" y="38.60" font-size="18.20" text-anchor="start" font-weight="bold" fill="#1c1c1c" textLength="15.00" lengthAdjust="spacingAndGlyphs" stroke="#1c1c1c" stroke-width="0.35">&amp;</text>
<text x="337.00" y="38.60" font-size="18.20" text-anchor="start" font-weight="bold" fill="#1c1c1c" textLength="50.00" lengthAdjust="spacingAndGlyphs" stroke="#1c1c1c" stroke-width="0.35">8262</text>
<text x="397.00" y="38.60" font-size="18.20" text-anchor="start" font-weight="bold" fill="#1c1c1c" stroke="#1c1c1c" stroke-width="0.35">(</text>
<text x="407.00" y="38.60" font-size="18.20" text-anchor="start" font-weight="bold" fill="#1c1c1c" textLength="16.00" lengthAdjust="spacingAndGlyphs" stroke="#1c1c1c" stroke-width="0.35">@</text>
<text x="427.00" y="38.60" font-size="18.20" text-anchor="start" font-weight="bold" fill="#1c1c1c" textLength="56.00" lengthAdjust="spacingAndGlyphs" stroke="#1c1c1c" stroke-width="0.35">Boost</text>
<text x="493.00" y="38.60" font-size="18.20" text-anchor="start" font-weight="bold" fill="#1c1c1c" textLength="87.00" lengthAdjust="spacingAndGlyphs" stroke="#1c1c1c" stroke-width="0.35">Pressure</text>
<text x="583.00" y="38.60" font-size="18.20" text-anchor="start" font-weight="bold" fill="#1c1c1c" textLength="30.00" lengthAdjust="spacingAndGlyphs" stroke="#1c1c1c" stroke-width="0.35">1.8</text>
<text x="616.00" y="38.60" font-size="18.20" text-anchor="start" font-weight="bold" fill="#1c1c1c" textLength="23.00" lengthAdjust="spacingAndGlyphs" stroke="#1c1c1c" stroke-width="0.35">kg</text>
<path d="M642.2,41.2 L649.8,24.2" stroke="#1c1c1c" stroke-width="2.3" fill="none"/>
<g fill="none" stroke="#1c1c1c" stroke-width="1.35" stroke-linecap="butt">
<path d="M658.37,31.70 A2.55,3.38 0 1 0 658.37,36.58"/>
<path d="M659.80,38.20 V30.08 M659.80,38.20 V32.74 A2.42,2.66 0 0 1 664.64,32.74 V38.20 M664.64,32.74 A2.42,2.66 0 0 1 669.49,32.74 V38.20"/>
<path stroke-width="1.15" d="M664.22,25.43 Q666.94,23.47 669.22,25.28 Q669.66,26.65 664.22,29.10 H669.66"/>
</g>
<text x="673.00" y="38.60" font-size="18.20" text-anchor="start" font-weight="bold" fill="#1c1c1c" stroke="#1c1c1c" stroke-width="0.35">)</text>
<rect x="442.60" y="336.60" width="219.40" height="168.70" rx="2.2" ry="2.2" fill="#fff" stroke="#969696" stroke-width="2.1"/>
<line x1="451.7" y1="350.60" x2="486.4" y2="350.60" stroke="#1f1fff" stroke-width="3.3" stroke-linecap="round"/>
<line x1="451.7" y1="378.85" x2="486.4" y2="378.85" stroke="#00a540" stroke-width="3.3" stroke-linecap="round"/>
<line x1="451.7" y1="407.10" x2="486.4" y2="407.10" stroke="#ff0000" stroke-width="3.3" stroke-linecap="round"/>
<line x1="451.75" y1="434.75" x2="486" y2="434.75" stroke="#1f1fff" stroke-width="3.3" stroke-linecap="round" stroke-dasharray="6.5 7"/>
<line x1="451.75" y1="462.90" x2="486" y2="462.90" stroke="#00a540" stroke-width="3.3" stroke-linecap="round" stroke-dasharray="6.5 7"/>
<line x1="451.75" y1="490.90" x2="486" y2="490.90" stroke="#ff0000" stroke-width="3.3" stroke-linecap="round" stroke-dasharray="6.5 7"/>
<g id="legtxt"></g>
<text x="494.00" y="357.50" font-size="15.80" text-anchor="start" font-weight="normal" fill="#222" textLength="20.50" lengthAdjust="spacingAndGlyphs" stroke="#222" stroke-width="0.25">GT</text>
<g fill="#222">
<rect x="516.40" y="346.10" width="7.80" height="1.3"/>
<rect x="516.40" y="356.20" width="7.80" height="1.3"/>
<rect x="517.90" y="346.10" width="1.7" height="11.40"/>
<rect x="521.00" y="346.10" width="1.7" height="11.40"/>
</g>
<text x="533.00" y="357.50" font-size="15.80" text-anchor="start" font-weight="normal" fill="#222" textLength="32.30" lengthAdjust="spacingAndGlyphs" stroke="#222" stroke-width="0.25">7460</text>
<text x="571.00" y="357.50" font-size="15.80" text-anchor="start" font-weight="normal" fill="#222" textLength="19.00" lengthAdjust="spacingAndGlyphs" stroke="#222" stroke-width="0.25">Eg</text>
<text x="593.50" y="357.50" font-size="15.80" text-anchor="start" font-weight="normal" fill="#222" textLength="45.50" lengthAdjust="spacingAndGlyphs" stroke="#222" stroke-width="0.25">Output</text>
<text x="494.00" y="384.90" font-size="15.80" text-anchor="start" font-weight="normal" fill="#222" textLength="20.50" lengthAdjust="spacingAndGlyphs" stroke="#222" stroke-width="0.25">GT</text>
<g fill="#222">
<rect x="516.40" y="373.50" width="7.80" height="1.3"/>
<rect x="516.40" y="383.60" width="7.80" height="1.3"/>
<rect x="517.90" y="373.50" width="1.7" height="11.40"/>
<rect x="521.00" y="373.50" width="1.7" height="11.40"/>
</g>
<text x="533.00" y="384.90" font-size="15.80" text-anchor="start" font-weight="normal" fill="#222" textLength="32.30" lengthAdjust="spacingAndGlyphs" stroke="#222" stroke-width="0.25">8262</text>
<text x="571.00" y="384.90" font-size="15.80" text-anchor="start" font-weight="normal" fill="#222" textLength="19.00" lengthAdjust="spacingAndGlyphs" stroke="#222" stroke-width="0.25">Eg</text>
<text x="593.50" y="384.90" font-size="15.80" text-anchor="start" font-weight="normal" fill="#222" textLength="45.50" lengthAdjust="spacingAndGlyphs" stroke="#222" stroke-width="0.25">Output</text>
<text x="494.00" y="412.30" font-size="15.80" text-anchor="start" font-weight="normal" fill="#222" textLength="20.50" lengthAdjust="spacingAndGlyphs" stroke="#222" stroke-width="0.25">GT</text>
<g fill="#222">
<rect x="515.60" y="400.90" width="11.00" height="1.3"/>
<rect x="515.60" y="411.00" width="11.00" height="1.3"/>
<rect x="516.58" y="400.90" width="1.7" height="11.40"/>
<rect x="520.25" y="400.90" width="1.7" height="11.40"/>
<rect x="523.92" y="400.90" width="1.7" height="11.40"/>
</g>
<text x="527.60" y="412.30" font-size="15.80" text-anchor="start" font-weight="normal" fill="#222" textLength="23.50" lengthAdjust="spacingAndGlyphs" stroke="#222" stroke-width="0.25">-RS</text>
<text x="556.00" y="412.30" font-size="15.80" text-anchor="start" font-weight="normal" fill="#222" textLength="19.00" lengthAdjust="spacingAndGlyphs" stroke="#222" stroke-width="0.25">Eg</text>
<text x="578.50" y="412.30" font-size="15.80" text-anchor="start" font-weight="normal" fill="#222" textLength="46.00" lengthAdjust="spacingAndGlyphs" stroke="#222" stroke-width="0.25">Output</text>
<text x="494.00" y="439.70" font-size="15.80" text-anchor="start" font-weight="normal" fill="#222" textLength="20.50" lengthAdjust="spacingAndGlyphs" stroke="#222" stroke-width="0.25">GT</text>
<g fill="#222">
<rect x="516.40" y="428.30" width="7.80" height="1.3"/>
<rect x="516.40" y="438.40" width="7.80" height="1.3"/>
<rect x="517.90" y="428.30" width="1.7" height="11.40"/>
<rect x="521.00" y="428.30" width="1.7" height="11.40"/>
</g>
<text x="533.00" y="439.70" font-size="15.80" text-anchor="start" font-weight="normal" fill="#222" textLength="32.30" lengthAdjust="spacingAndGlyphs" stroke="#222" stroke-width="0.25">7460</text>
<text x="571.00" y="439.70" font-size="15.80" text-anchor="start" font-weight="normal" fill="#222" textLength="39.50" lengthAdjust="spacingAndGlyphs" stroke="#222" stroke-width="0.25">Boost</text>
<text x="614.50" y="439.70" font-size="15.80" text-anchor="start" font-weight="normal" fill="#222" textLength="41.50" lengthAdjust="spacingAndGlyphs" stroke="#222" stroke-width="0.25">Press.</text>
<text x="494.00" y="467.10" font-size="15.80" text-anchor="start" font-weight="normal" fill="#222" textLength="20.50" lengthAdjust="spacingAndGlyphs" stroke="#222" stroke-width="0.25">GT</text>
<g fill="#222">
<rect x="516.40" y="455.70" width="7.80" height="1.3"/>
<rect x="516.40" y="465.80" width="7.80" height="1.3"/>
<rect x="517.90" y="455.70" width="1.7" height="11.40"/>
<rect x="521.00" y="455.70" width="1.7" height="11.40"/>
</g>
<text x="533.00" y="467.10" font-size="15.80" text-anchor="start" font-weight="normal" fill="#222" textLength="32.30" lengthAdjust="spacingAndGlyphs" stroke="#222" stroke-width="0.25">8262</text>
<text x="571.00" y="467.10" font-size="15.80" text-anchor="start" font-weight="normal" fill="#222" textLength="39.50" lengthAdjust="spacingAndGlyphs" stroke="#222" stroke-width="0.25">Boost</text>
<text x="614.50" y="467.10" font-size="15.80" text-anchor="start" font-weight="normal" fill="#222" textLength="41.50" lengthAdjust="spacingAndGlyphs" stroke="#222" stroke-width="0.25">Press.</text>
<text x="494.00" y="494.50" font-size="15.80" text-anchor="start" font-weight="normal" fill="#222" textLength="20.50" lengthAdjust="spacingAndGlyphs" stroke="#222" stroke-width="0.25">GT</text>
<g fill="#222">
<rect x="515.60" y="483.10" width="11.00" height="1.3"/>
<rect x="515.60" y="493.20" width="11.00" height="1.3"/>
<rect x="516.58" y="483.10" width="1.7" height="11.40"/>
<rect x="520.25" y="483.10" width="1.7" height="11.40"/>
<rect x="523.92" y="483.10" width="1.7" height="11.40"/>
</g>
<text x="527.60" y="494.50" font-size="15.80" text-anchor="start" font-weight="normal" fill="#222" textLength="23.50" lengthAdjust="spacingAndGlyphs" stroke="#222" stroke-width="0.25">-RS</text>
<text x="556.00" y="494.50" font-size="15.80" text-anchor="start" font-weight="normal" fill="#222" textLength="39.50" lengthAdjust="spacingAndGlyphs" stroke="#222" stroke-width="0.25">Boost</text>
<text x="600.00" y="494.50" font-size="15.80" text-anchor="start" font-weight="normal" fill="#222" textLength="42.00" lengthAdjust="spacingAndGlyphs" stroke="#222" stroke-width="0.25">Press.</text>
<rect x="320.7" y="439.6" width="158.9" height="57.9" rx="28.95" ry="28.95" fill="#eaeaea" fill-opacity="0.72"/>
<g transform="translate(335,450) scale(0.05)">
<path d="M120,225 C55,170 85,35 195,30 C272,30 310,80 316,132 C380,106 470,110 520,136 C530,70 580,35 626,40 C702,50 732,130 690,202 C752,270 792,360 770,452 C750,562 620,682 420,691 C230,696 58,620 30,480 C10,380 50,290 120,225 Z" fill="#fff" stroke="#fff" stroke-width="52" stroke-linejoin="round"/>
<path d="M120,225 C55,170 85,35 195,30 C272,30 310,80 316,132 C380,106 470,110 520,136 C530,70 580,35 626,40 C702,50 732,130 690,202 C752,270 792,360 770,452 C750,562 620,682 420,691 C230,696 58,620 30,480 C10,380 50,290 120,225 Z" fill="#151515"/>
<path d="M230,236 C330,205 480,205 580,250 C660,300 716,380 700,460 C680,552 540,609 400,613 C260,613 140,570 120,480 C105,400 150,290 230,236 Z" fill="#f5123e"/>
<path d="M138,335 C106,400 106,470 132,528" stroke="#fff" stroke-width="13" stroke-linecap="round" fill="none" opacity="0.9"/>
<path d="M195,136 L266,232" stroke="#f5123e" stroke-width="48" stroke-linecap="round" fill="none"/>
<ellipse cx="606" cy="150" rx="21" ry="30" fill="#f5123e" transform="rotate(28 606 150)"/>
<path d="M245,392 L432,408 L432,430 L322,430 C300,452 296,482 306,506 C260,496 234,450 245,392 Z" fill="#fff"/>
<path d="M322,432 h112 v48 c-10,42 -62,52 -104,42 c-12,-30 -14,-62 -8,-90 z" fill="#1c1c1c"/>
<path d="M442,388 L206,336 L216,440 C226,520 300,546 340,546 C400,546 442,500 442,446 L338,446" fill="none" stroke="#151515" stroke-width="46" stroke-linejoin="round" stroke-linecap="round"/>
<path d="M540,384 L642,374 L642,406 L590,410 C575,430 575,456 586,476 C550,466 534,430 540,384 Z" fill="#fff"/>
<path d="M590,426 h62 v40 c-10,30 -42,40 -64,34 c-8,-24 -8,-50 2,-74 z" fill="#1c1c1c"/>
<path d="M652,350 L510,370 L506,440 C510,490 550,510 590,508 C640,505 660,470 656,426 L588,426" fill="none" stroke="#151515" stroke-width="42" stroke-linejoin="round" stroke-linecap="round"/>
<circle cx="545" cy="268" r="10" fill="#ff9fb2"/>
<circle cx="186" cy="512" r="8" fill="#ff9fb2"/>
</g>
<g font-style="italic" font-weight="bold" font-size="21" stroke-linejoin="round">
<text x="379.6" y="478" textLength="30" lengthAdjust="spacingAndGlyphs" fill="#fff" stroke="#fff" stroke-width="3.4">GG</text>
<text x="410.4" y="478" textLength="51.5" lengthAdjust="spacingAndGlyphs" fill="#fff" stroke="#fff" stroke-width="3.2">Parts</text>
<text x="379.6" y="478" textLength="30" lengthAdjust="spacingAndGlyphs" fill="#ee1111" stroke="#ee1111" stroke-width="1.0">GG</text>
<text x="410.4" y="478" textLength="51.5" lengthAdjust="spacingAndGlyphs" fill="#141414" stroke="#141414" stroke-width="0.9">Parts</text>
</g>
</g>
</svg>
</body></html>
